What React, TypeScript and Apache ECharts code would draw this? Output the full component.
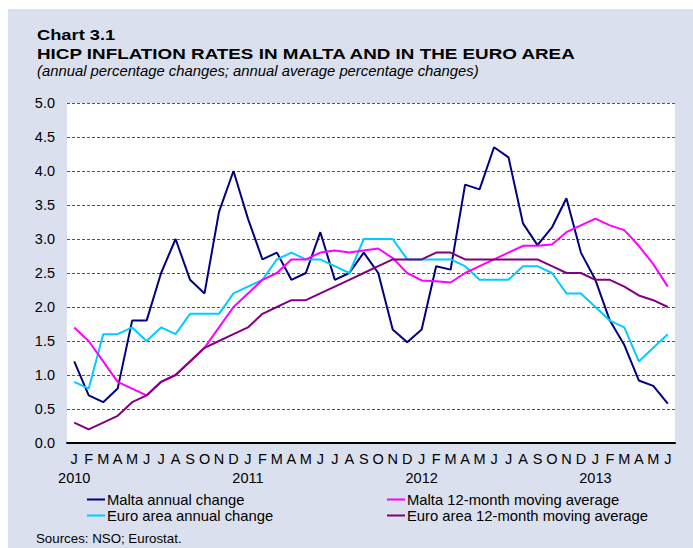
import React, { useEffect, useRef } from "react";
import * as echarts from "echarts";

const monthLetters = ["J", "F", "M", "A", "M", "J", "J", "A", "S", "O", "N", "D"];
const years = ["2010", "2011", "2012", "2013"];
const categories: string[] = [];
years.forEach((y) => monthLetters.forEach((m, i) => categories.push(i === 0 ? `${m}|${y}` : m)));
const months = categories.slice(0, 42);

const maltaAnnual = [
  1.2, 0.7, 0.6, 0.8, 1.8, 1.8, 2.5, 3.0, 2.4, 2.2, 3.4, 4.0,
  3.3, 2.7, 2.8, 2.4, 2.5, 3.1, 2.4, 2.5, 2.8, 2.5, 1.67, 1.48,
  1.67, 2.6, 2.55, 3.8, 3.73, 4.35, 4.2, 3.23, 2.91, 3.17, 3.6, 2.8,
  2.4, 1.8, 1.44, 0.92, 0.84, 0.58,
];
const maltaAvg = [
  1.7, 1.5, 1.2, 0.9, 0.8, 0.7, 0.9, 1.0, 1.2, 1.4, 1.7, 2.0,
  2.2, 2.4, 2.5, 2.7, 2.7, 2.8, 2.83, 2.8, 2.83, 2.86, 2.72, 2.5,
  2.39, 2.38, 2.36, 2.5, 2.6, 2.7, 2.8, 2.9, 2.9, 2.92, 3.1, 3.2,
  3.3, 3.2, 3.13, 2.9, 2.63, 2.3,
];
const euroAnnual = [
  0.9, 0.8, 1.6, 1.6, 1.7, 1.5, 1.7, 1.6, 1.9, 1.9, 1.9, 2.2,
  2.3, 2.4, 2.7, 2.8, 2.7, 2.7, 2.6, 2.5, 3.0, 3.0, 3.0, 2.7,
  2.7, 2.7, 2.7, 2.6, 2.4, 2.4, 2.4, 2.6, 2.6, 2.5, 2.2, 2.2,
  2.0, 1.8, 1.7, 1.2, 1.4, 1.6,
];
const euroAvg = [
  0.3, 0.2, 0.3, 0.4, 0.6, 0.7, 0.9, 1.0, 1.2, 1.4, 1.5, 1.6,
  1.7, 1.9, 2.0, 2.1, 2.1, 2.2, 2.3, 2.4, 2.5, 2.6, 2.7, 2.7,
  2.7, 2.8, 2.8, 2.7, 2.7, 2.7, 2.7, 2.7, 2.7, 2.6, 2.5, 2.5,
  2.4, 2.4, 2.3, 2.17, 2.1, 2.0,
];

const seriesNames = [
  "Malta annual change",
  "Malta 12-month moving average",
  "Euro area annual change",
  "Euro area 12-month moving average",
];
const seriesColors = ["#000080", "#ff00ff", "#00ccff", "#800080"];
const seriesData = [maltaAnnual, maltaAvg, euroAnnual, euroAvg];
const drawOrder = [0, 2, 1, 3];

const titleLine1 = "Chart 3.1";
const titleLine2 = "HICP INFLATION RATES IN MALTA AND IN THE EURO AREA";
const subtitle = "(annual percentage changes; annual average percentage changes)";
const sourceText = "Sources: NSO; Eurostat.";

const FONT = "'Liberation Sans', Arial, sans-serif";

export default function App() {
  const ref = useRef<HTMLDivElement>(null);
  useEffect(() => {
    if (!ref.current) return;
    const chart = echarts.init(ref.current, undefined, { renderer: "svg" });
    const legendStyle = {
      orient: "vertical" as const,
      top: 478,
      itemWidth: 18,
      itemHeight: 2,
      itemGap: 1,
      icon: "rect",
      textStyle: { fontFamily: FONT, fontSize: 14.8, color: "#000", padding: [0, 0, 0, -3] },
    };
    const mkText = (text: string, x: number, y: number, size: number, scaleX: number, extra: object) => ({
      type: "text",
      x,
      y,
      scaleX,
      style: {
        text,
        fontFamily: FONT,
        fontSize: size,
        fill: "#000",
        textVerticalAlign: "top",
        verticalAlign: "top",
        ...extra,
      },
    });
    chart.setOption({
      animation: false,
      backgroundColor: "transparent",
      textStyle: { fontFamily: FONT },
      graphic: [
        mkText(titleLine1, 29, 17.5, 15.5, 1.18, { fontWeight: "bold" }),
        mkText(titleLine2, 29, 38, 15, 1.255, { fontWeight: "bold" }),
        mkText(subtitle, 29, 55, 14, 1.06, { fontStyle: "italic" }),
        mkText(sourceText, 28, 523, 13.3, 1, {}),
      ],
      legend: [
        { ...legendStyle, left: 74, data: [seriesNames[0], seriesNames[2]] },
        { ...legendStyle, left: 374, data: [seriesNames[1], seriesNames[3]] },
      ],
      grid: {
        left: 59,
        right: 18,
        top: 94,
        bottom: 105,
        show: true,
        backgroundColor: "#ffffff",
        borderWidth: 0,
      },
      xAxis: {
        type: "category",
        data: months,
        boundaryGap: true,
        axisLine: { lineStyle: { color: "#000", width: 2 } },
        axisTick: { show: false },
        axisLabel: {
          interval: 0,
          margin: 6,
          fontFamily: FONT,
          fontSize: 14.5,
          color: "#000",
          lineHeight: 19,
          formatter: (v: string) => {
            const parts = v.split("|");
            return parts.length > 1 ? `${parts[0]}\n${parts[1]}` : parts[0];
          },
        },
      },
      yAxis: {
        type: "value",
        min: 0,
        max: 5,
        interval: 0.5,
        axisLine: { show: false },
        axisTick: { show: false },
        splitLine: { lineStyle: { color: "#555", type: [3, 2], width: 1 } },
        axisLabel: {
          margin: 12,
          fontFamily: FONT,
          fontSize: 14.5,
          color: "#000",
          formatter: (v: number) => v.toFixed(1),
        },
      },
      series: drawOrder.map((i) => ({
        name: seriesNames[i],
        type: "line",
        data: seriesData[i],
        showSymbol: false,
        symbol: "none",
        lineStyle: { color: seriesColors[i], width: 2 },
        itemStyle: { color: seriesColors[i] },
      })),
    });
    return () => chart.dispose();
  }, []);
  return (
    <div
      style={{
        position: "fixed",
        left: 8,
        top: 9,
        width: 685,
        height: 539,
        background: "#dae0ee",
      }}
    >
      <div ref={ref} style={{ width: 685, height: 539 }} />
    </div>
  );
}
